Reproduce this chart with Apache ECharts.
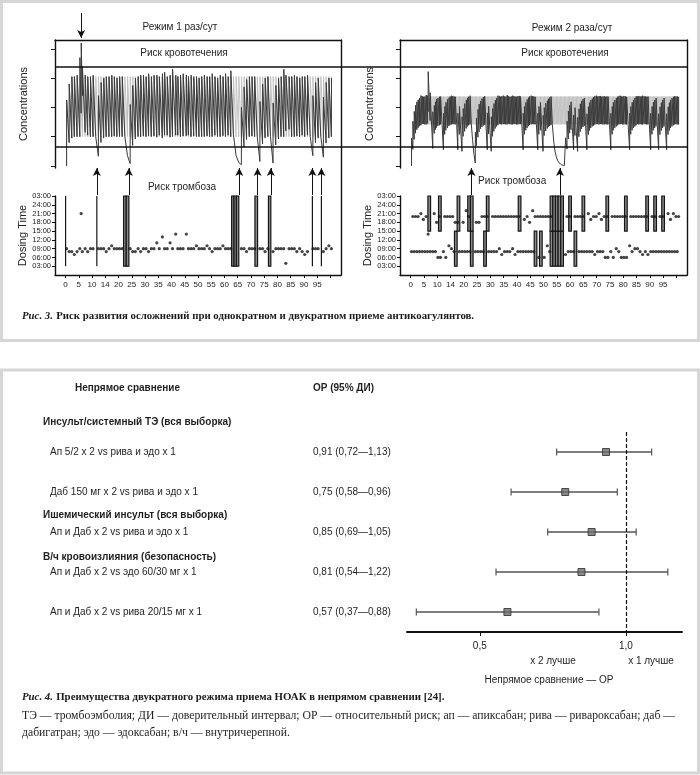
<!DOCTYPE html>
<html><head><meta charset="utf-8">
<script src="https://cdn.jsdelivr.net/npm/echarts@6/dist/echarts.min.js"></script>
<style>html,body{margin:0;padding:0;background:#fff}#c{width:700px;height:775px}</style>
</head><body><div id="c"></div>
<script>
// ---------------- DATA: Fig. 3 (left: once daily) ----------------
const leftTime = [9,8,8,7,8,9,8,9,8,9, 9,null,9,9,9,8,9,10,9,9, 9,9,null,null,9,8,8,9,8,9, 9,8,9,9,11,9,13,9,9,11, 9,14,9,9,9,14,9,9,9,10, 9,9,9,10,9,8,9,9,9,10, 9,9,9,null,null,null,9,9,8,9, 9,9,null,9,9,8,9,null,8,9, 9,9,9,4,9,9,9,8,9,8, 7,8,null,9,9,9,null,8,9,10, 9];
const leftLow = [0,0.8,0.95,1.0,1.0,1.0,2.4,1.15,1.05,1.0, 1.0,1.0,0.33,0.8,0.95,1.0,1.0,1.0,1.02,1.0, 1.0,1.0,1.0,0.35,0.08,0.7,0.92,1.0,1.0,1.02, 1.0,1.03,1.0,1.02,0.98,1.05,0.95,1.05,1.05,0.98, 1.0,1.05,1.05,1.0,1.02,1.03,1.05,1.0,1.02,1.0, 1.0,1.0,1.0,1.02,1.0,1.0,1.05,1.0,1.0,1.03, 1.0,1.05,1.0,1.08,0.36,0.12,0.04,0.65,0.9,1.0, 1.02,1.0,1.0,0.15,0.75,0.95,1.0,1.0,0.1,0.72, 0.92,1.0,1.0,1.2,1.25,1.0,1.0,1.02,1.0,1.05, 1.0,1.05,1.0,0.35,0.8,0.95,1.0,0.3,0.78,0.95, 1.0];
const leftPeak = [2.25,2.8,3.05,3.05,3.1,3.7,3.4,3.1,3.05,3.05, 3.1,null,2.4,2.85,3.0,3.05,3.05,3.1,3.05,3.0, 3.05,3.05,null,null,2.1,2.75,3.0,3.05,3.1,3.1, 3.05,3.15,3.05,3.1,3.1,3.05,3.15,3.2,3.05,3.1, 3.3,3.1,3.05,3.1,3.15,3.1,3.05,3.1,3.05,3.05, 3.0,3.05,3.1,3.05,3.05,3.15,3.05,3.0,3.1,3.05, 3.15,3.05,3.25,null,null,null,2.0,2.7,2.95,3.05, 3.05,3.05,null,2.2,2.8,3.0,3.05,null,2.15,2.75, 3.0,3.05,3.3,3.1,3.05,3.05,3.1,3.05,3.0,3.05, 3.05,3.1,null,2.4,2.85,3.0,null,2.35,2.85,3.0, 3.0];
const leftExtraDay = [5];
const leftExtraHour = [21];
const leftExtraLow = [1.8];
const leftExtraPeak = [4.2];
const leftNominalHour = 9;
const leftIdealLow = 1.0, leftIdealPeak = 3.05, leftRampDays = 3;
const leftBarStart = [0, 11.8, 21.9, 22.9, 62.7, 63.6, 64.5, 71.5, 76.6, 93.2, 96.6];
const leftBarEnd   = [0, 11.8, 22.9, 23.9, 63.6, 64.5, 65.4, 72.5, 77.5, 93.2, 96.6];
const leftArrowDay = [11.8, 23.9, 65.6, 72.5, 77.5, 93.2, 96.6];

// ---------------- DATA: Fig. 3 (right: twice daily) ----------------
const rightAM = [8,8,8,8,8,8,8,8,8,8, 6,6,8,6,10,9,8,null,8,8, 8,8,8,null,8,8,8,8,null,8, 8,8,8,9,7,8,8,8,9,7, 8,8,8,8,8,8,8,null,6,null, 6,10,8,null,null,null,null,null,7,8, 8,8,null,8,8,8,8,8,8,7, 8,8,8,6,6,8,6,9,8,6, 6,6,10,8,9,9,8,7,8,7, 8,8,8,8,8,8,8,8,8,8, 8];
const rightPM = [20,20,20,21,19,20,14,null,21,18, 20,null,20,20,20,20,18,18,null,18, 22,20,null,null,18,18,20,20,20,null, 20,20,20,20,20,20,20,20,20,20, 20,null,19,20,18,22,20,20,20,20, 20,20,20,null,null,null,null,null,20,20, null,20,20,20,20,null,21,19,20,20, 21,19,20,20,null,20,20,20,20,20, 20,null,20,20,20,20,20,20,20,null, 20,20,null,20,20,null,21,19,21,20, 20];
const rLoA = [0,0.91,1.24,1.36,1.44,1.42,1.45,1.55,0.6,1.24, 1.37,1.42,0.55,1.22,1.36,1.42,1.43,1.42,1.08,0.5, 1.18,1.35,1.42,0.86,0.1,0.98,1.27,1.38,1.43,1.09, 0.5,1.18,1.35,1.44,1.42,1.44,1.42,1.43,1.42,1.43, 1.42,1.43,0.55,1.22,1.36,1.42,1.43,1.42,1.08,1.3, 1.04,1.28,1.37,1.42,0.51,0.18,0.07,0.02,0.01,0.92, 1.24,0.55,1.19,1.0,1.27,1.37,0.55,1.21,1.35,1.41, 1.44,1.43,1.42,1.43,1.42,0.55,1.22,1.35,1.42,1.44, 1.42,1.42,0.55,1.22,1.35,1.43,1.43,1.42,1.43,1.42, 0.55,1.22,1.35,0.55,1.21,1.35,0.55,1.21,1.35,1.42, 1.42];
const rPkA = [0.95,1.86,2.19,2.31,2.38,2.37,2.4,2.5,1.85,2.19, 2.32,2.37,1.8,2.17,2.33,2.4,2.37,null,2.03,1.68, 2.13,2.32,2.4,null,1.15,1.93,2.22,2.35,null,2.04, 1.68,2.13,2.32,2.39,2.38,2.37,2.42,2.36,2.4,2.37, 2.38,2.37,1.8,2.17,2.33,2.4,2.37,null,2.03,null, 1.99,2.23,2.34,null,null,null,null,null,0.96,1.87, 2.19,1.74,null,1.95,2.22,2.32,1.78,2.16,2.3,2.38, 2.37,2.39,2.37,2.36,2.37,1.8,2.17,2.32,2.38,2.37, 2.39,2.36,1.8,2.17,2.32,2.37,2.37,2.4,2.37,2.37, 1.8,2.17,2.32,1.78,2.16,2.32,1.78,2.16,2.32,2.38, 2.37];
const rLoP = [0.57,1.12,1.31,1.39,1.43,1.42,1.85,1.5,1.11,1.31, 1.39,1.42,1.08,1.3,1.4,1.44,1.42,0.55,1.22,1.01, 1.28,1.39,1.44,0.4,0.69,1.16,1.33,1.41,0.55,1.22, 1.01,1.28,1.39,1.43,1.43,1.42,1.45,1.42,1.44,1.42, 1.43,1.42,1.08,1.3,1.4,1.44,1.42,0.55,1.22,0.5, 1.19,1.34,1.4,0.85,0.31,0.11,0.04,0.01,0.58,1.12, 1.31,1.04,0.5,1.17,1.33,1.39,1.07,1.3,1.38,1.43, 1.42,1.43,1.42,1.42,1.42,1.08,1.3,1.39,1.43,1.42, 1.43,1.42,1.08,1.3,1.39,1.42,1.42,1.44,1.42,1.42, 1.08,1.3,1.39,1.07,1.3,1.39,1.07,1.3,1.39,1.43, 1.42];
const rPkP = [1.52,2.07,2.26,2.4,2.36,2.42,3.22,null,2.06,2.28, 2.36,null,2.03,2.27,2.37,2.38,2.36,1.8,null,1.96, 2.25,2.36,null,null,1.64,2.11,2.3,2.38,1.81,null, 1.96,2.25,2.4,2.36,2.4,2.37,2.38,2.37,2.38,2.36, 2.39,null,2.03,2.27,2.37,2.38,2.36,1.8,2.17,1.73, 2.14,2.29,2.37,null,null,null,null,null,1.53,2.07, null,1.99,1.66,2.12,2.28,null,2.02,2.25,2.35,2.4, 2.38,2.36,2.38,2.37,null,2.03,2.25,2.36,2.4,2.37, 2.37,null,2.03,2.25,2.38,2.39,2.37,2.38,2.36,null, 2.03,2.25,null,2.02,2.25,null,2.02,2.25,2.36,2.37, 2.36];
const amNominal = 8, pmNominal = 20;
const rightIdealLow = 1.42, rightIdealPeak = 2.37, rightRampDays = 5;
const rightArrowDay = [22.9, 56.2];

// thresholds (concentration units) and axis ticks
const bleedLevel = 3.38, thrombLevel = 0.65;
const concTicks = [0,1,2,3,4];
const doseTickHours = [3,6,9,12,15,18,21,24,27];
const doseTickLabels = ['03:00','06:00','09:00','12:00','15:00','18:00','21:00','24:00','03:00'];
const allDayHours = [3, 27], amHours = [3, 15], pmHours = [15, 27];
const xTickValues = [0,5,10,15,20,25,30,35,40,45,50,55,60,65,70,75,80,85,90,95,100];
const xLabelValues = [0,5,10,15,20,25,30,35,40,45,50,55,60,65,70,75,80,85,90,95];
const xLabelTexts = ['0','5','10','14','20','25','30','35','40','45','50','55','60','65','70','75','80','85','90','95'];

// ---------------- DATA: Fig. 4 (forest plot) ----------------
const rowLabels = ['Ап 5/2 x 2 vs рива и эдо x 1','Даб 150 мг x 2 vs рива и эдо x 1','Ап и Даб x 2 vs рива и эдо x 1','Ап и Даб x 2 vs эдо 60/30 мг x 1','Ап и Даб x 2 vs рива 20/15 мг x 1'];
const orVal  = [0.91, 0.75, 0.85, 0.81, 0.57];
const orLow  = [0.72, 0.58, 0.69, 0.54, 0.37];
const orHigh = [1.13, 0.96, 1.05, 1.22, 0.88];
const groupTitles = ['Инсульт/системный ТЭ (вся выборка)','Ишемический инсульт (вся выборка)','В/ч кровоизлияния (безопасность)'];
const forestTickLabels = {0.5:'0,5', 1:'1,0'};

// ---------------- BUILD ----------------
const FONT = '"Liberation Sans", Arial, sans-serif';
const SERIF = '"Liberation Serif", "Times New Roman", serif';
const X_MIN = -4, X_MAX = 104;
const C_MIN = -0.07, C_MAX = 4.3;
const fmt = v => v.toFixed(2).replace('.', ',');
const valueLabels = orVal.map((v,i)=>`${fmt(v)} (${fmt(orLow[i])}—${fmt(orHigh[i])})`);

function buildLine(events){
  events.sort((a,b)=>a.x-b.x);
  const pts=[];
  events.forEach(e=>{ pts.push([e.x, e.lo]); if(e.pk!=null) pts.push([e.x+0.03, e.pk]); });
  return pts;
}
const leftEvents = leftLow.map((lo,d)=>({x: d + (leftTime[d] ?? leftNominalHour)/24, lo, pk: leftPeak[d]}));
leftExtraDay.forEach((d,i)=>leftEvents.push({x: d + leftExtraHour[i]/24, lo: leftExtraLow[i], pk: leftExtraPeak[i]}));
const leftLine = buildLine(leftEvents);
const leftIdeal = buildLine(leftLow.map((lo,d)=>({x: d + leftNominalHour/24, lo: d<leftRampDays?lo:leftIdealLow, pk: d<leftRampDays?leftPeak[d]:leftIdealPeak})));

const rightEvents = [];
rLoA.forEach((lo,d)=>{
  rightEvents.push({x: d + (rightAM[d] ?? amNominal)/24, lo, pk: rPkA[d]});
  rightEvents.push({x: d + (rightPM[d] ?? pmNominal)/24, lo: rLoP[d], pk: rPkP[d]});
});
const rightLine = buildLine(rightEvents);
const rightIdealEv = [];
rLoA.forEach((lo,d)=>{
  rightIdealEv.push({x: d + amNominal/24, lo: d<rightRampDays?lo:rightIdealLow, pk: d<rightRampDays?rPkA[d]:rightIdealPeak});
  rightIdealEv.push({x: d + pmNominal/24, lo: d<rightRampDays?rLoP[d]:rightIdealLow, pk: d<rightRampDays?rPkP[d]:rightIdealPeak});
});
const rightIdeal = buildLine(rightIdealEv);

const leftDots = [];
leftTime.forEach((h,d)=>{ if(h!=null) leftDots.push([d + h/24, h]); });
leftExtraDay.forEach((d,i)=>leftDots.push([d + leftExtraHour[i]/24, leftExtraHour[i]]));
const rightDots = [];
rightAM.forEach((h,d)=>{ if(h!=null) rightDots.push([d + h/24, h]); });
rightPM.forEach((h,d)=>{ if(h!=null) rightDots.push([d + h/24, h]); });

const leftBars = leftBarStart.map((s,i)=>[s, leftBarEnd[i], allDayHours[0], allDayHours[1]]);
const rightBars = [];
rightAM.forEach((h,d)=>{ if(h==null) rightBars.push([d-0.5, d+0.5, amHours[0], amHours[1]]); });
rightPM.forEach((h,d)=>{ if(h==null) rightBars.push([d-0.5, d+0.5, pmHours[0], pmHours[1]]); });

const BL = {show:true, onZero:false, lineStyle:{color:'#111', width:1.4}};
const OFF = {axisLine:{show:false}, axisTick:{show:false}, axisLabel:{show:false}, splitLine:{show:false}};
function dayAxis(gi, o){ return Object.assign({gridIndex:gi, type:'value', min:X_MIN, max:X_MAX}, OFF, o||{}); }
function unitAxis(gi, o){ return Object.assign({gridIndex:gi, type:'value', min:0, max:1}, OFF, o||{}); }
function concAxis(gi, gap){
  return {gridIndex:gi, type:'value', min:C_MIN, max:C_MAX, axisLine:BL,
    axisTick:{show:true, length:4, customValues:concTicks, lineStyle:{color:'#111'}},
    axisLabel:{show:false}, splitLine:{show:false},
    name:'Concentrations', nameLocation:'middle', nameGap:gap,
    nameTextStyle:{fontSize:11, color:'#222', fontFamily:FONT}};
}
function doseAxis(gi, gap){
  return {gridIndex:gi, type:'value', min:0, max:27, axisLine:BL,
    axisTick:{show:true, length:3, customValues:doseTickHours, lineStyle:{color:'#111'}},
    axisLabel:{show:true, customValues:doseTickHours, fontSize:7.5, color:'#222', margin:4, fontFamily:FONT,
      formatter:v=>doseTickLabels[doseTickHours.indexOf(v)] || ''},
    splitLine:{show:false},
    name:'Dosing Time', nameLocation:'middle', nameGap:gap,
    nameTextStyle:{fontSize:11, color:'#222', fontFamily:FONT}};
}
function dayBottomAxis(gi){
  return dayAxis(gi, {position:'bottom', axisLine:BL,
    axisTick:{show:true, length:3, customValues:xTickValues, lineStyle:{color:'#111'}},
    axisLabel:{show:true, customValues:xLabelValues, fontSize:8, color:'#222', margin:6, fontFamily:FONT,
      formatter:v=>xLabelTexts[xLabelValues.indexOf(v)] || ''}});
}
function barItem(params, api){
  const a = api.coord([api.value(0), api.value(3)]);
  const b = api.coord([api.value(1), api.value(2)]);
  return {type:'rect', shape:{x:a[0], y:a[1], width:b[0]-a[0], height:b[1]-a[1]},
    style:{fill:'#8a8a8a', stroke:'#161616', lineWidth:1.2}};
}
function arrows(xi, days, up){
  return {type:'line', xAxisIndex:xi, yAxisIndex:xi, data:[], silent:true,
    markLine:{silent:true, symbol:['none','arrow'], symbolSize:[6,8], animation:false,
      label:{show:false}, lineStyle:{color:'#111', width:1, type:'solid'},
      data: days.map(d=> up ? [{coord:[d,0]},{coord:[d,1]}] : [{coord:[d,1]},{coord:[d,0]}])}};
}
function ciItem(params, api){
  const y = api.value(2);
  const p0 = api.coord([api.value(0), y]), p1 = api.coord([api.value(1), y]);
  const h = 3.5;
  return {type:'group', children:[
    {type:'line', shape:{x1:p0[0], y1:p0[1], x2:p1[0], y2:p1[1]}, style:{stroke:'#555', lineWidth:1.5}},
    {type:'line', shape:{x1:p0[0], y1:p0[1]-h, x2:p0[0], y2:p0[1]+h}, style:{stroke:'#555', lineWidth:1.2}},
    {type:'line', shape:{x1:p1[0], y1:p1[1]-h, x2:p1[0], y2:p1[1]+h}, style:{stroke:'#555', lineWidth:1.2}}
  ]};
}
function txt(text, x, y, size, align, extra){
  return {type:'text', silent:true, style:Object.assign({text, x, y, font:`${size}px ${FONT}`, fill:'#1f1f1f',
    align:align||'center', verticalAlign:'middle', textAlign:align||'center', textVerticalAlign:'middle'}, extra||{})};
}

const option = {
  animation:false,
  textStyle:{fontFamily:FONT},
  grid:[
    {left:55, top:40, width:286, height:235},
    {left:55, top:40, width:286, height:128},
    {left:55, top:196, width:286, height:79},
    {left:55, top:168, width:286, height:27},
    {left:55, top:13, width:286, height:25},
    {left:400, top:40, width:287, height:235},
    {left:400, top:40, width:287, height:128},
    {left:400, top:196, width:287, height:79},
    {left:400, top:168, width:287, height:27},
    {left:55, top:40, width:633, height:128},
    {left:407, top:432, width:275, height:200}
  ],
  xAxis:[
    dayAxis(0, {position:'top', axisLine:BL}),
    dayAxis(1), dayBottomAxis(2), dayAxis(3), dayAxis(4),
    dayAxis(5, {position:'top', axisLine:BL}),
    dayAxis(6), dayBottomAxis(7), dayAxis(8),
    unitAxis(9),
    {gridIndex:10, type:'log', logBase:2, min:0.354, max:1.305,
      axisLine:{show:true, onZero:false, lineStyle:{color:'#111', width:2}},
      axisTick:{show:true, length:4, lineStyle:{color:'#111'}},
      axisLabel:{show:true, showMinLabel:false, showMaxLabel:false, fontSize:10, color:'#222', margin:9, fontFamily:FONT,
        formatter:v=>forestTickLabels[Math.round(v*1000)/1000] || ''},
      splitLine:{show:false}}
  ],
  yAxis:[
    unitAxis(0, {position:'right', axisLine:BL}),
    concAxis(1, 26), doseAxis(2, 26), unitAxis(3), unitAxis(4),
    unitAxis(5, {position:'right', axisLine:BL}),
    concAxis(6, 25), doseAxis(7, 25), unitAxis(8),
    {gridIndex:9, type:'value', min:C_MIN, max:C_MAX, show:false},
    {gridIndex:10, type:'category', inverse:true, position:'left', data:rowLabels,
      axisLine:{show:false}, axisTick:{show:false}, splitLine:{show:false},
      axisLabel:{interval:0, align:'left', margin:357, fontSize:10, color:'#1f1f1f', fontFamily:FONT}},
    {gridIndex:10, type:'category', inverse:true, position:'left', data:valueLabels,
      axisLine:{show:false}, axisTick:{show:false}, splitLine:{show:false},
      axisLabel:{interval:0, align:'left', margin:94, fontSize:10, color:'#1f1f1f', fontFamily:FONT}}
  ],
  series:[
    {type:'line', xAxisIndex:1, yAxisIndex:1, data:leftIdeal, showSymbol:false, silent:true, lineStyle:{color:'#c2c2c2', width:1}},
    {type:'line', xAxisIndex:1, yAxisIndex:1, data:leftLine, showSymbol:false, silent:true, lineStyle:{color:'#3a3a3a', width:1}},
    {type:'custom', xAxisIndex:2, yAxisIndex:2, data:leftBars, renderItem:barItem, encode:{x:[0,1], y:[2,3]}, silent:true},
    {type:'scatter', xAxisIndex:2, yAxisIndex:2, data:leftDots, symbolSize:3.2, itemStyle:{color:'#151515'}, silent:true},
    arrows(3, leftArrowDay, true),
    arrows(4, leftExtraDay.map((d,i)=>d + leftExtraHour[i]/24), false),
    {type:'line', xAxisIndex:6, yAxisIndex:6, data:rightIdeal, showSymbol:false, silent:true, lineStyle:{color:'#c2c2c2', width:1}},
    {type:'line', xAxisIndex:6, yAxisIndex:6, data:rightLine, showSymbol:false, silent:true, lineStyle:{color:'#3a3a3a', width:1}},
    {type:'custom', xAxisIndex:7, yAxisIndex:7, data:rightBars, renderItem:barItem, encode:{x:[0,1], y:[2,3]}, silent:true},
    {type:'scatter', xAxisIndex:7, yAxisIndex:7, data:rightDots, symbolSize:3.2, itemStyle:{color:'#151515'}, silent:true},
    arrows(8, rightArrowDay, true),
    {type:'line', xAxisIndex:9, yAxisIndex:9, data:[], silent:true,
      markLine:{silent:true, symbol:'none', label:{show:false}, lineStyle:{color:'#111', width:1.5, type:'solid'},
        data:[{yAxis:bleedLevel},{yAxis:thrombLevel}]}},
    {type:'custom', xAxisIndex:10, yAxisIndex:10, data:orLow.map((lo,i)=>[lo, orHigh[i], i]), renderItem:ciItem, encode:{x:[0,1], y:2}, silent:true},
    {type:'scatter', xAxisIndex:10, yAxisIndex:10, data:orVal.map((v,i)=>[v,i]), symbol:'rect', symbolSize:7, silent:true,
      itemStyle:{color:'#6d6d6d', borderColor:'#2b2b2b', borderWidth:1},
      markLine:{silent:true, symbol:'none', label:{show:false}, lineStyle:{color:'#111', width:1.2, type:[4,2]}, data:[{xAxis:1}]}}
  ],
  graphic:[
    {type:'rect', silent:true, shape:{x:1.5, y:1.5, width:697, height:339}, style:{fill:'rgba(0,0,0,0)', stroke:'#d6d6d6', lineWidth:3}},
    {type:'rect', silent:true, shape:{x:1.5, y:370, width:697, height:403}, style:{fill:'rgba(0,0,0,0)', stroke:'#d6d6d6', lineWidth:3}},
    txt('Режим 1 раз/сут', 180, 27, 10),
    txt('Режим 2 раза/сут', 572, 28, 10),
    txt('Риск кровотечения', 184, 53, 10),
    txt('Риск кровотечения', 565, 53, 10),
    txt('Риск тромбоза', 182, 187, 10),
    txt('Риск тромбоза', 478, 181, 10, 'left'),
    {type:'text', silent:true, style:{x:22, y:316, text:'{i|Рис. 3.} {b|Риск развития осложнений при однократном и двукратном приеме антикоагулянтов.}',
      verticalAlign:'middle', textVerticalAlign:'middle', fill:'#1a1a1a',
      rich:{i:{font:`italic bold 10.8px ${SERIF}`, fill:'#1a1a1a'}, b:{font:`bold 10.8px ${SERIF}`, fill:'#1a1a1a'}}}},
    txt('Непрямое сравнение', 75, 388, 10, 'left', {font:`bold 10px ${FONT}`}),
    txt('ОР (95% ДИ)', 313, 388, 10, 'left', {font:`bold 10px ${FONT}`}),
    txt(groupTitles[0], 43, 422, 10, 'left', {font:`bold 10px ${FONT}`}),
    txt(groupTitles[1], 43, 515, 10, 'left', {font:`bold 10px ${FONT}`}),
    txt(groupTitles[2], 43, 557, 10, 'left', {font:`bold 10px ${FONT}`}),
    txt('x 2 лучше', 553, 661, 10),
    txt('x 1 лучше', 651, 661, 10),
    txt('Непрямое сравнение — ОР', 549, 680, 10),
    {type:'text', silent:true, style:{x:22, y:697, text:'{i|Рис. 4.} {b|Преимущества двукратного режима приема НОАК в непрямом сравнении [24].}',
      verticalAlign:'middle', textVerticalAlign:'middle', fill:'#1a1a1a',
      rich:{i:{font:`italic bold 10.8px ${SERIF}`, fill:'#1a1a1a'}, b:{font:`bold 10.8px ${SERIF}`, fill:'#1a1a1a'}}}},
    txt('ТЭ — тромбоэмболия; ДИ — доверительный интервал; ОР — относительный риск; ап — апиксабан; рива — ривароксабан; даб —', 22, 716, 12, 'left', {font:`11.7px ${SERIF}`}),
    txt('дабигатран; эдо — эдоксабан; в/ч — внутричерепной.', 22, 733, 12, 'left', {font:`11.7px ${SERIF}`})
  ]
};
const chart = echarts.init(document.getElementById('c'), null, {renderer:'canvas', width:700, height:775});
chart.setOption(option);
</script></body></html>
